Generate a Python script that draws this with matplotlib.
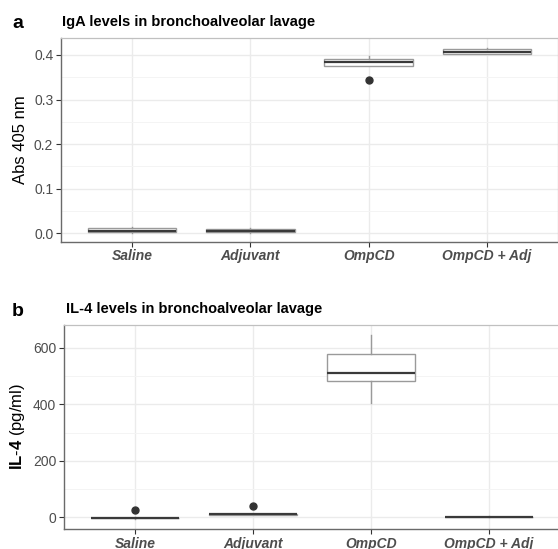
import matplotlib
matplotlib.use("Agg")
import matplotlib.pyplot as plt
from matplotlib.ticker import MultipleLocator

plt.rcParams['font.family'] = ['Liberation Sans', 'DejaVu Sans']
plt.rcParams['mathtext.fontset'] = 'custom'
plt.rcParams['mathtext.rm'] = 'Liberation Sans'
plt.rcParams['mathtext.bf'] = 'Liberation Sans:bold'

categories = ["Saline", "Adjuvant", "OmpCD", "OmpCD + Adj"]

# Panel a: IgA (Abs 405 nm)
iga_whislo = [0.001, 0.001, 0.376, 0.402]
iga_q1 = [0.002, 0.002, 0.376, 0.402]
iga_med = [0.005, 0.004, 0.384, 0.406]
iga_q3 = [0.012, 0.010, 0.392, 0.4125]
iga_whishi = [0.015, 0.012, 0.398, 0.416]
iga_fliers = [[], [], [0.344], []]

# Panel b: IL-4 (pg/ml)
il4_whislo = [-4, 9, 403, 0]
il4_q1 = [-3, 10, 482, 1]
il4_med = [-2, 11, 509, 2]
il4_q3 = [-1, 12, 576, 3]
il4_whishi = [0, 13, 645, 4]
il4_fliers = [[26], [40], [], []]

def stats(lo, q1, med, q3, hi, fl):
    return [dict(label=c, whislo=a, q1=b, med=m, q3=d, whishi=e, fliers=f)
            for c, a, b, m, d, e, f in zip(categories, lo, q1, med, q3, hi, fl)]

fig = plt.figure(figsize=(5.58, 5.49), dpi=100)
ax1 = fig.add_axes([61/558, 1-241.7/549, 497/558, (241.7-38)/549])
ax2 = fig.add_axes([64/558, 1-529/549, 496/558, (529-325)/549])

box_edge = '#9a9a9a'
med_col = '#3a3a3a'

def style(ax, data, ylim, major, minor, ylabel):
    pos = list(range(1, len(categories)+1))
    ax.bxp(data, positions=pos, widths=0.75, patch_artist=True,
           boxprops=dict(facecolor='white', edgecolor=box_edge, linewidth=1.0),
           medianprops=dict(color=med_col, linewidth=1.6),
           whiskerprops=dict(color=box_edge, linewidth=1.0),
           capprops=dict(linewidth=0), showcaps=False,
           flierprops=dict(marker='o', markerfacecolor='#333333',
                           markeredgecolor='#333333', markersize=5),
           zorder=3)
    ax.set_xlim(0.4, 4.6)
    ax.set_ylim(*ylim)
    ax.yaxis.set_major_locator(MultipleLocator(major))
    ax.yaxis.set_minor_locator(MultipleLocator(minor))
    ax.set_xticks(pos)
    ax.set_xticklabels(categories, fontsize=10, fontweight='bold',
                       fontstyle='italic', color='#4d4d4d')
    ax.tick_params(axis='y', which='major', labelsize=10, labelcolor='#4d4d4d',
                   color='#333333', length=3.5, width=0.8, pad=2)
    ax.tick_params(axis='y', which='minor', length=0)
    ax.tick_params(axis='x', which='major', color='#333333', length=3.5,
                   width=0.8, pad=2)
    ax.grid(True, which='major', color='#ebebeb', linewidth=1.0, zorder=0)
    ax.grid(True, which='minor', axis='y', color='#f4f4f4', linewidth=0.7, zorder=0)
    ax.set_axisbelow(True)
    for s in ['top', 'right']:
        ax.spines[s].set_color('#c0c0c0')
        ax.spines[s].set_linewidth(0.9)
    for s in ['left', 'bottom']:
        ax.spines[s].set_color('#6a6a6a')
        ax.spines[s].set_linewidth(1.0)
    ax.set_ylabel(ylabel, fontsize=12, color='black', labelpad=4)

style(ax1, stats(iga_whislo, iga_q1, iga_med, iga_q3, iga_whishi, iga_fliers),
      (-0.019, 0.438), 0.1, 0.05, "Abs 405 nm")
ax1.set_yticklabels([f"{v:.1f}" for v in ax1.get_yticks()])
ax1.set_ylim(-0.019, 0.438)

style(ax2, stats(il4_whislo, il4_q1, il4_med, il4_q3, il4_whishi, il4_fliers),
      (-41, 680), 200, 100, r"$\mathbf{IL}$-$\mathbf{4}$ (pg/ml)")

fig.text(62/558, 1-22/549, "IgA levels in bronchoalveolar lavage", fontsize=10.5,
         fontweight='bold', va='center', ha='left')
fig.text(12/558, 1-24/549, "a", fontsize=14, fontweight='bold', va='center', ha='left')
fig.text(66/558, 1-309/549, "IL-4 levels in bronchoalveolar lavage", fontsize=10.5,
         fontweight='bold', va='center', ha='left')
fig.text(12/558, 1-311/549, "b", fontsize=14, fontweight='bold', va='center', ha='left')

fig.savefig("out.png", dpi=100)
